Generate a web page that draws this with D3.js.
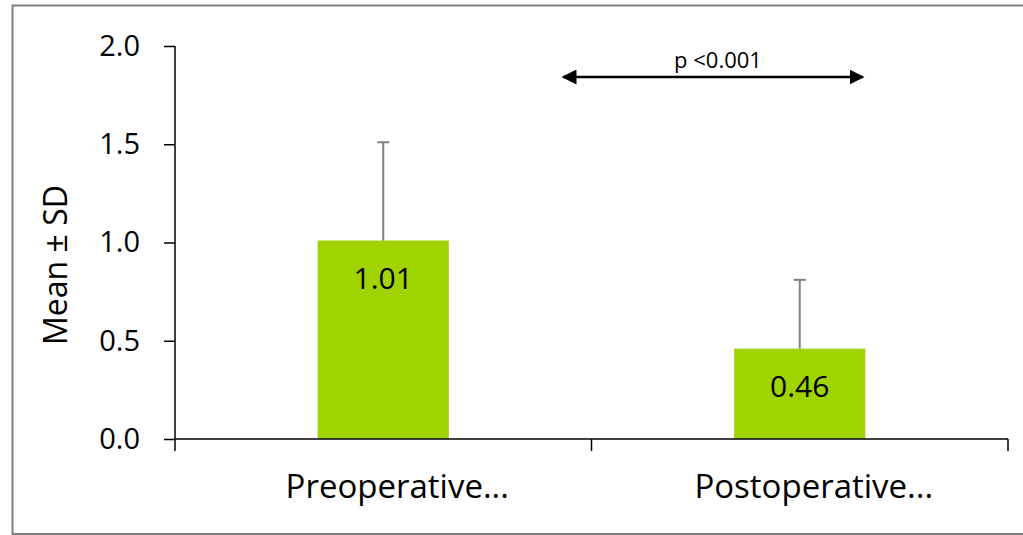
<!DOCTYPE html>
<html><head><meta charset="utf-8">
<script src="https://cdn.jsdelivr.net/npm/d3@7"></script>
<style>body{margin:0;background:#fff}svg{display:block}text{font-family:"Open Sans",sans-serif;fill:#000}</style>
</head><body>
<svg id="c" width="1023" height="535"></svg>
<script>
const categories = ["Preoperative...", "Postoperative..."];
const means = [1.01, 0.46];
const sds = [0.50, 0.35];
const valueLabels = ["1.01", "0.46"];
const yTicks = [0.0, 0.5, 1.0, 1.5, 2.0];
const pLabel = "p <0.001";

const svg = d3.select("#c");
const L = 175, R = 1008, T = 46, B = 439;

svg.append("rect").attr("x", 12.5).attr("y", 5.5).attr("width", 1030).attr("height", 528.5)
  .attr("fill", "none").attr("stroke", "#7f7f7f").attr("stroke-width", 2);

const x = d3.scaleBand().domain(categories).range([L, R]).padding(0);
const y = d3.scaleLinear().domain([0, 2]).range([B, T]);
const bw = x.bandwidth() * 0.315;

// y axis
const ya = svg.append("g").attr("transform", `translate(${L},0)`)
  .call(d3.axisLeft(y).tickValues(yTicks).tickFormat(d3.format(".1f")).tickSize(11).tickPadding(24));
ya.select(".domain").attr("stroke", "#000").attr("stroke-width", 1.5).attr("d", `M0,${T}V${B}`);
ya.selectAll(".tick line").attr("stroke", "#000").attr("stroke-width", 1.5);
ya.selectAll(".tick text").style("font-size", "29px").style("font-family", '"Open Sans",sans-serif').attr("fill", "#000");

// bars
svg.selectAll("rect.bar").data(categories).enter().append("rect").attr("class", "bar")
  .attr("x", (d) => x(d) + x.bandwidth() / 2 - bw / 2)
  .attr("y", (d, i) => y(means[i]))
  .attr("width", bw)
  .attr("height", (d, i) => B - y(means[i]))
  .attr("fill", "#9fd400");

// error bars
const eb = svg.selectAll("g.err").data(categories).enter().append("g").attr("class", "err");
eb.append("line")
  .attr("x1", (d) => x(d) + x.bandwidth() / 2).attr("x2", (d) => x(d) + x.bandwidth() / 2)
  .attr("y1", (d, i) => y(means[i])).attr("y2", (d, i) => y(means[i] + sds[i]))
  .attr("stroke", "#7f7f7f").attr("stroke-width", 2);
eb.append("line")
  .attr("x1", (d) => x(d) + x.bandwidth() / 2 - 6).attr("x2", (d) => x(d) + x.bandwidth() / 2 + 6)
  .attr("y1", (d, i) => y(means[i] + sds[i])).attr("y2", (d, i) => y(means[i] + sds[i]))
  .attr("stroke", "#7f7f7f").attr("stroke-width", 2);

// x axis
const xa = svg.append("g").attr("transform", `translate(0,${B})`)
  .call(d3.axisBottom(x).tickSize(0).tickPadding(36));
xa.select(".domain").attr("stroke", "#000").attr("stroke-width", 1.5).attr("d", `M${L},0H${R}`);
xa.selectAll(".tick text").style("font-size", "33px").style("font-family", '"Open Sans",sans-serif')
  .attr("fill", "#000").attr("dx", 14);
// category boundary ticks
const bounds = [L].concat(categories.map((d) => x(d) + x.bandwidth()));
xa.selectAll("line.bt").data(bounds).enter().append("line").attr("class", "bt")
  .attr("x1", (d) => d).attr("x2", (d) => d).attr("y1", 0).attr("y2", 12)
  .attr("stroke", "#000").attr("stroke-width", 1.5);

// value labels
svg.selectAll("text.val").data(categories).enter().append("text").attr("class", "val")
  .attr("x", (d) => x(d) + x.bandwidth() / 2)
  .attr("y", (d, i) => y(means[i]) + 48)
  .attr("text-anchor", "middle").style("font-size", "30px")
  .text((d, i) => valueLabels[i]);

// y title
svg.append("text").attr("transform", `translate(67,265) rotate(-90)`)
  .attr("text-anchor", "middle").style("font-size", "32px").text("Mean ± SD");

// significance arrow
const defs = svg.append("defs");
defs.append("marker").attr("id", "ah").attr("viewBox", "0 0 10 10").attr("refX", 9).attr("refY", 5)
  .attr("markerWidth", 6).attr("markerHeight", 6).attr("markerUnits", "strokeWidth").attr("orient", "auto-start-reverse")
  .append("path").attr("d", "M0,0L10,5L0,10Z").attr("fill", "#000");
const ax1 = 563, ax2 = 863, ay = 77;
svg.append("line").attr("x1", ax1).attr("x2", ax2).attr("y1", ay).attr("y2", ay)
  .attr("stroke", "#000").attr("stroke-width", 2.5)
  .attr("marker-start", "url(#ah)").attr("marker-end", "url(#ah)");
svg.append("text").attr("x", (ax1 + ax2) / 2 + 5).attr("y", 68).attr("text-anchor", "middle")
  .style("font-size", "22px").text(pLabel);
</script>
</body></html>
